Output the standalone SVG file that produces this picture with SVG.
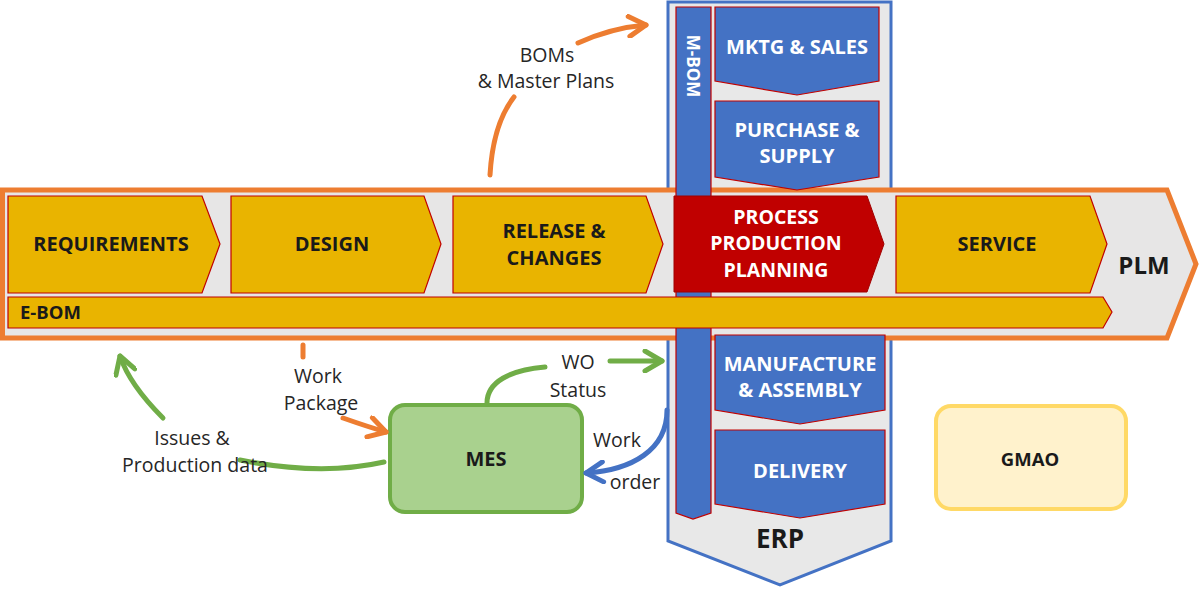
<svg xmlns="http://www.w3.org/2000/svg" width="1200" height="589" viewBox="0 0 1200 589">
<defs>
<style>
.lbl{font-family:"Open Sans","Liberation Sans",sans-serif;font-weight:700;text-anchor:middle}
.dark{fill:#1a1a1a}
.white{fill:#ffffff}
.note{font-family:"Open Sans","Liberation Sans",sans-serif;font-size:19.5px;fill:#262626;text-anchor:middle}
.stage{fill:#e9b400;stroke:#c00000;stroke-width:1.2}
.bluebox{fill:#4472c4;stroke:#c00000;stroke-width:1.2}
.conn{fill:none;stroke-width:5;stroke-linecap:round}
.or{stroke:#ed7d31}
.gr{stroke:#70ad47}
.bl{stroke:#4472c4}
</style>
<marker id="mOr" viewBox="0 0 24 24" refX="21" refY="12" markerWidth="24" markerHeight="24" markerUnits="userSpaceOnUse" orient="auto">
<path d="M4,2 L21,12 L4,22" fill="none" stroke="#ed7d31" stroke-width="5" stroke-linecap="round" stroke-linejoin="round"/>
</marker>
<marker id="mGr" viewBox="0 0 24 24" refX="21" refY="12" markerWidth="24" markerHeight="24" markerUnits="userSpaceOnUse" orient="auto">
<path d="M4,2 L21,12 L4,22" fill="none" stroke="#70ad47" stroke-width="5" stroke-linecap="round" stroke-linejoin="round"/>
</marker>
<marker id="mBl" viewBox="0 0 24 24" refX="21" refY="12" markerWidth="24" markerHeight="24" markerUnits="userSpaceOnUse" orient="auto">
<path d="M4,2 L21,12 L4,22" fill="none" stroke="#4472c4" stroke-width="5" stroke-linecap="round" stroke-linejoin="round"/>
</marker>
</defs>
<rect x="0" y="0" width="1200" height="589" fill="#ffffff"/>

<g id="erp">
<polygon points="668,2 891,2 891,541 780,585 668,541" fill="#e8e8e8" stroke="#4472c4" stroke-width="3"/>
<text class="lbl dark" x="780" y="548" font-size="26">ERP</text>
</g>

<g id="plm">
<polygon points="2.5,190 1167,190 1196,264 1167,338 2.5,338" fill="#e7e6e6" stroke="#ed7d31" stroke-width="5"/>
<text class="lbl dark" x="1144" y="274" font-size="24">PLM</text>
</g>

<g id="m-bom">
<polygon class="bluebox" points="676,7 711,7 711,513 693,519 676,513"/>
<text class="lbl white" x="693" y="66" font-size="17" transform="rotate(90 693 66)" dominant-baseline="central">M-BOM</text>
</g>

<g id="mktg-sales">
<polygon class="bluebox" points="715,7 879,7 879,81 797,95 715,81"/>
<text class="lbl white" x="797" y="54" font-size="20">MKTG &amp; SALES</text>
</g>
<g id="purchase-supply">
<polygon class="bluebox" points="715,101 879,101 879,177 797,190 715,177"/>
<text class="lbl white" x="797" y="137" font-size="20">PURCHASE &amp;</text>
<text class="lbl white" x="797" y="163" font-size="20">SUPPLY</text>
</g>
<g id="manufacture-assembly">
<polygon class="bluebox" points="715,335 885,335 885,410 800,424 715,410"/>
<text class="lbl white" x="800" y="371" font-size="20">MANUFACTURE</text>
<text class="lbl white" x="800" y="397" font-size="20">&amp; ASSEMBLY</text>
</g>
<g id="delivery">
<polygon class="bluebox" points="715,430 885,430 885,504 800,518 715,504"/>
<text class="lbl white" x="800" y="478" font-size="20">DELIVERY</text>
</g>

<g id="requirements">
<polygon class="stage" points="8,196 202,196 220,244 202,293 8,293"/>
<text class="lbl dark" x="111" y="251" font-size="20">REQUIREMENTS</text>
</g>
<g id="design">
<polygon class="stage" points="231,196 424,196 441,244 424,293 231,293"/>
<text class="lbl dark" x="332" y="251" font-size="20">DESIGN</text>
</g>
<g id="release-changes">
<polygon class="stage" points="453,196 646,196 663,244 646,293 453,293"/>
<text class="lbl dark" x="554" y="238" font-size="20">RELEASE &amp;</text>
<text class="lbl dark" x="554" y="265" font-size="20">CHANGES</text>
</g>
<g id="process-production-planning">
<polygon points="674,196 867,196 884,244 867,292 674,292" fill="#c00000" stroke="#a00000" stroke-width="1"/>
<text class="lbl white" x="776" y="224" font-size="19.5">PROCESS</text>
<text class="lbl white" x="776" y="250" font-size="19.5">PRODUCTION</text>
<text class="lbl white" x="776" y="277" font-size="19.5">PLANNING</text>
</g>
<g id="service">
<polygon class="stage" points="896,196 1090,196 1107,244 1090,293 896,293"/>
<text class="lbl dark" x="997" y="251" font-size="20">SERVICE</text>
</g>
<g id="e-bom">
<polygon class="stage" points="8,297 1103,297 1112,312 1103,328 8,328"/>
<text class="lbl dark" x="20" y="319" font-size="18.5" style="text-anchor:start">E-BOM</text>
</g>

<g id="mes">
<rect x="390" y="405" width="192" height="107" rx="15" fill="#a9d18e" stroke="#70ad47" stroke-width="4"/>
<text class="lbl dark" x="486" y="466" font-size="20">MES</text>
</g>
<g id="gmao">
<rect x="936" y="406" width="190" height="103" rx="15" fill="#fff2cc" stroke="#ffd966" stroke-width="4"/>
<text class="lbl dark" x="1030" y="466" font-size="18.5">GMAO</text>
</g>

<g id="connectors">
<path class="conn or" d="M490,175 C492,140 500,115 514,97"/>
<path class="conn or" d="M578,43 C600,33 622,27 646,25" marker-end="url(#mOr)"/>
<path class="conn or" d="M303,345 L303,357" stroke-linecap="butt"/>
<path class="conn or" d="M343,418 C360,424 372,428 386,432" marker-end="url(#mOr)"/>
<path class="conn gr" d="M384,462 C340,472 290,470 240,460"/>
<path class="conn gr" d="M163,418 C145,400 128,380 120,356" marker-end="url(#mGr)"/>
<path class="conn gr" d="M487,403 C487,382 510,370 545,367"/>
<path class="conn gr" d="M610,361 L662,361" marker-end="url(#mGr)"/>
<path class="conn bl" d="M667,410 C667,450 632,470 586,473" marker-end="url(#mBl)"/>
</g>

<g id="labels">
<text class="note" x="547" y="62">BOMs</text>
<text class="note" x="546" y="88">&amp; Master Plans</text>
<text class="note" x="318" y="383">Work</text>
<text class="note" x="321" y="410">Package</text>
<text class="note" x="192" y="445">Issues &amp;</text>
<text class="note" x="195" y="472">Production data</text>
<text class="note" x="578" y="369">WO</text>
<text class="note" x="578" y="397">Status</text>
<text class="note" x="617" y="447">Work</text>
<text class="note" x="635" y="489">order</text>
</g>
</svg>
